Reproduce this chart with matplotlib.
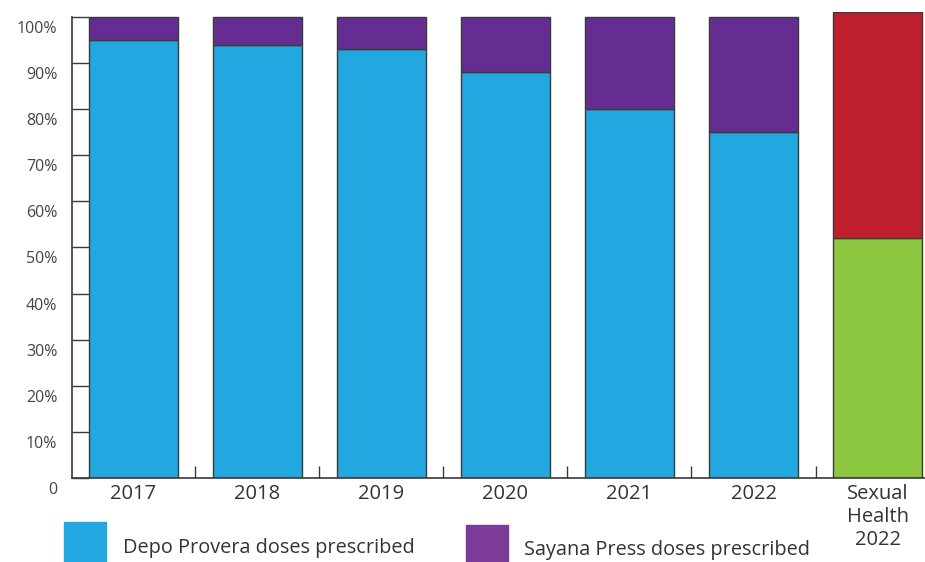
import numpy as np
import matplotlib.pyplot as plt
import matplotlib.transforms as mtransforms
from matplotlib.patches import Rectangle

plt.rcParams['font.family'] = ['Open Sans', 'DejaVu Sans']

categories = ["2017", "2018", "2019", "2020", "2021", "2022", "Sexual\nHealth\n2022"]
depo = [95, 94, 93, 88, 80, 75]
sayana = [5, 6, 7, 12, 20, 25]
sh_lower = 52
sh_upper = 49

blue = "#22A7E0"
purple = "#652D91"
red = "#BE1E2D"
green = "#8DC63F"
edge = "#3a3a3a"

fig = plt.figure(figsize=(9.25, 5.62), dpi=100)
ax = fig.add_axes([0.0778, 0.1495, 0.9222, 0.8285])

x = np.arange(len(depo))
w = 0.718
ax.bar(x, depo, width=w, color=blue, edgecolor=edge, linewidth=1)
ax.bar(x, sayana, bottom=depo, width=w, color=purple, edgecolor=edge, linewidth=1)
ax.bar([6], [sh_lower], width=w, color=green, edgecolor=edge, linewidth=1)
ax.bar([6], [sh_upper], bottom=[sh_lower], width=w, color=red, edgecolor=edge, linewidth=1)

ax.set_xlim(-0.496, 6.383)
ax.set_ylim(0, 101)
ax.spines['top'].set_visible(False)
ax.spines['right'].set_visible(False)
ax.spines['left'].set_bounds(0, 100)
for s in ['left', 'bottom']:
    ax.spines[s].set_color(edge)
    ax.spines[s].set_linewidth(1.2)

ax.set_yticks(np.arange(0, 101, 10))
ax.set_yticklabels(["0"] + [f"{v}%" for v in range(10, 101, 10)])
ax.tick_params(axis='y', direction='in', length=12.5, width=1, color=edge,
               labelsize=11.5, labelcolor="#444444", pad=10.5)
# labels sit a bit below their ticks in the original
shift = mtransforms.ScaledTranslation(0, -0.10, fig.dpi_scale_trans)
for lbl in ax.get_yticklabels():
    lbl.set_transform(lbl.get_transform() + shift)

ax.set_xticks(np.arange(len(categories)))
ax.set_xticklabels(categories, linespacing=1.2)
ax.tick_params(axis='x', which='major', length=0, labelsize=14.5, labelcolor="#333333", pad=4)
ax.set_xticks(np.arange(len(categories) - 1) + 0.5, minor=True)
ax.tick_params(axis='x', which='minor', direction='in', length=8.5, width=1, color=edge)

# legend
fig.patches.append(Rectangle((64 / 925, 0), 42 / 925, 40 / 562, transform=fig.transFigure,
                             color=blue, zorder=5))
fig.text(123 / 925, 14 / 562, "Depo Provera doses prescribed", fontsize=14.3, color="#333333",
         va='center', ha='left')
fig.patches.append(Rectangle((466 / 925, 0), 42 / 925, 37 / 562, transform=fig.transFigure,
                             color="#7B3B96", zorder=5))
fig.text(524 / 925, 12 / 562, "Sayana Press doses prescribed", fontsize=14.3, color="#333333",
         va='center', ha='left')

fig.savefig("out.png", dpi=100)
